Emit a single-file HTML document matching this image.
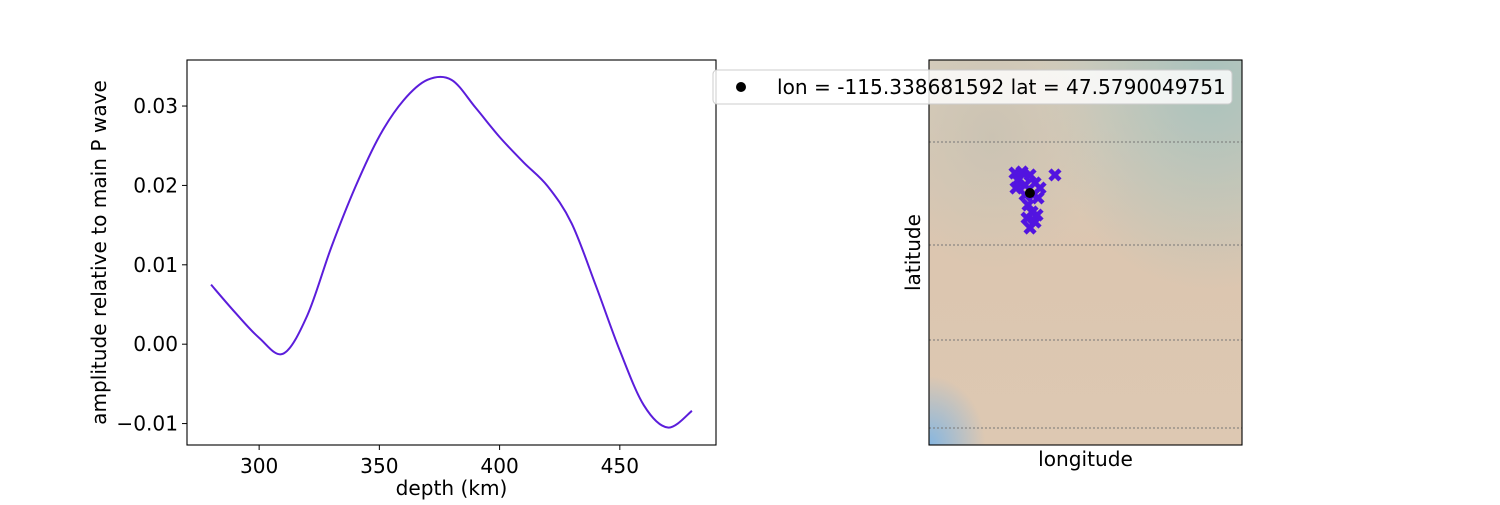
<!DOCTYPE html>
<html><head><meta charset="utf-8"><style>
body{margin:0;background:#fff;font-family:"Liberation Sans","DejaVu Sans",sans-serif}
svg text{font-family:"DejaVu Sans","Liberation Sans",sans-serif;font-size:20.1px;fill:#000}
</style></head><body>
<svg width="1500" height="500">
<defs>
<radialGradient id="g1" cx="0.9" cy="0.05" r="0.55"><stop offset="0" stop-color="#a9c2bd"/><stop offset="1" stop-color="#a9c2bd" stop-opacity="0"/></radialGradient>
<radialGradient id="g2" cx="0.0" cy="1.0" r="0.18"><stop offset="0" stop-color="#86b6e0"/><stop offset="1" stop-color="#86b6e0" stop-opacity="0"/></radialGradient>
<radialGradient id="g3" cx="0.2" cy="0.2" r="0.35"><stop offset="0" stop-color="#cbc3b3"/><stop offset="1" stop-color="#cbc3b3" stop-opacity="0"/></radialGradient>
<linearGradient id="g0" x1="0" y1="0" x2="0" y2="1"><stop offset="0" stop-color="#d5cdbc"/><stop offset="0.5" stop-color="#dcc6b0"/><stop offset="1" stop-color="#ddc8b2"/></linearGradient>
</defs>
<g id="left"></g>
<g id="map"></g>
</svg>
<script>
const depths=[280,290,300,310,320,330,340,350,360,370,380,390,400,410,420,430,440,450,460,470,480];
const amps=[0.0075,0.0040,0.0008,-0.0012,0.0036,0.0122,0.0198,0.0262,0.0307,0.0333,0.0333,0.0298,0.0261,0.0229,0.0199,0.0152,0.0074,-0.0008,-0.0077,-0.0105,-0.0084];
const xTicks=[300,350,400,450];
const yTicks=[-0.01,0,0.01,0.02,0.03];
const yTickLabels=["\u22120.01","0.00","0.01","0.02","0.03"];
const eventLons=[-116.53,-115.97,-115.33,-116.29,-115.73,-114.93,-114.53,-116.45,-114.69,-115.49,-115.17,-115.57,-114.93,-115.33,-114.77,-113.34,-115.09,-115.73];
const eventLats=[48.63,48.69,48.53,48.26,48.0,48.11,47.84,47.84,47.32,46.95,46.58,46.26,46.05,45.74,46.42,48.53,47.48,47.48];
const centerLon=-115.338681592, centerLat=47.5790049751;

const NS="http://www.w3.org/2000/svg";
function mk(p,t,a,txt){const e=document.createElementNS(NS,t);for(const k in a)e.setAttribute(k,a[k]);if(txt!==undefined)e.textContent=txt;p.appendChild(e);return e;}
const L=document.getElementById('left');
const ax={l:187,r:716,t:60,b:445,x0:270,x1:490,y0:-0.0127,y1:0.0358};
const X=v=>ax.l+(v-ax.x0)/(ax.x1-ax.x0)*(ax.r-ax.l);
const Y=v=>ax.b-(v-ax.y0)/(ax.y1-ax.y0)*(ax.b-ax.t);
const pts=depths.map((d,i)=>[X(d),Y(amps[i])]);
let d=`M${pts[0][0]},${pts[0][1]}`;
for(let i=0;i<pts.length-1;i++){const p0=pts[Math.max(0,i-1)],p1=pts[i],p2=pts[i+1],p3=pts[Math.min(pts.length-1,i+2)];
d+=` C${p1[0]+(p2[0]-p0[0])/6},${p1[1]+(p2[1]-p0[1])/6} ${p2[0]-(p3[0]-p1[0])/6},${p2[1]-(p3[1]-p1[1])/6} ${p2[0]},${p2[1]}`;}
const line=mk(L,'path',{d:d,fill:'none',stroke:'#5b1ddb','stroke-width':2});


const fr=mk(L,'rect',{x:ax.l,y:ax.t,width:ax.r-ax.l,height:ax.b-ax.t,fill:'none',stroke:'#000','stroke-width':1.1});


xTicks.forEach(v=>{mk(L,'line',{x1:X(v),x2:X(v),y1:ax.b,y2:ax.b+5,stroke:'#000'});
const t=mk(L,'text',{x:X(v),y:ax.b+28,'text-anchor':'middle'},String(v));

});
yTicks.forEach((v,i)=>{mk(L,'line',{x1:ax.l-5,x2:ax.l,y1:Y(v),y2:Y(v),stroke:'#000'});
const t=mk(L,'text',{x:ax.l-9,y:Y(v)+7,'text-anchor':'end'},yTickLabels[i]);

});
const xl=mk(L,'text',{x:(ax.l+ax.r)/2,y:495,'text-anchor':'middle'},'depth (km)');


const yl=mk(L,'text',{x:0,y:0,'text-anchor':'middle',transform:`translate(106,${(ax.t+ax.b)/2}) rotate(-90)`},'amplitude relative to main P wave');



const M=document.getElementById('map');
const mp={l:929,r:1242,t:60,b:445,lon0:-123.4,lon1:-98.4,lat0:34.32,lat1:54.58};
const MX=v=>mp.l+(v-mp.lon0)/(mp.lon1-mp.lon0)*(mp.r-mp.l);
const MY=v=>mp.b-(v-mp.lat0)/(mp.lat1-mp.lat0)*(mp.b-mp.t);
const bg=mk(M,'rect',{x:mp.l,y:mp.t,width:mp.r-mp.l,height:mp.b-mp.t,fill:'url(#g0)'});


mk(M,'rect',{x:mp.l,y:mp.t,width:mp.r-mp.l,height:mp.b-mp.t,fill:'url(#g1)'});
mk(M,'rect',{x:mp.l,y:mp.t,width:mp.r-mp.l,height:mp.b-mp.t,fill:'url(#g3)'});
mk(M,'rect',{x:mp.l,y:mp.t,width:mp.r-mp.l,height:mp.b-mp.t,fill:'url(#g2)'});
[142,245,340,428].forEach(y=>{const g=mk(M,'line',{x1:mp.l,x2:mp.r,y1:y,y2:y,stroke:'#777','stroke-width':1,'stroke-dasharray':'2,2'});

});
eventLons.forEach((lo,i)=>{const x=MX(lo),y=MY(eventLats[i]),s=5;
const m=mk(M,'path',{d:`M${x-s},${y-s}L${x+s},${y+s}M${x-s},${y+s}L${x+s},${y-s}`,stroke:'#5214e0','stroke-width':4.5});

});
const c=mk(M,'circle',{cx:MX(centerLon),cy:MY(centerLat),r:5,fill:'#000'});


const mf=mk(M,'rect',{x:mp.l,y:mp.t,width:mp.r-mp.l,height:mp.b-mp.t,fill:'none',stroke:'#000','stroke-width':1.1});


const mxl=mk(M,'text',{x:(mp.l+mp.r)/2,y:466,'text-anchor':'middle'},'longitude');


const myl=mk(M,'text',{x:0,y:0,'text-anchor':'middle',transform:`translate(920,${(mp.t+mp.b)/2}) rotate(-90)`},'latitude');


const lg=mk(M,'g',{});


mk(lg,'rect',{x:713,y:70,width:519,height:34,rx:4,fill:'#fff','fill-opacity':0.82,stroke:'#ccc'});
mk(lg,'circle',{cx:741,cy:87,r:5,fill:'#000'});
const lt=mk(lg,'text',{x:777,y:94},'lon = -115.338681592 lat = 47.5790049751');


</script>
</body></html>
